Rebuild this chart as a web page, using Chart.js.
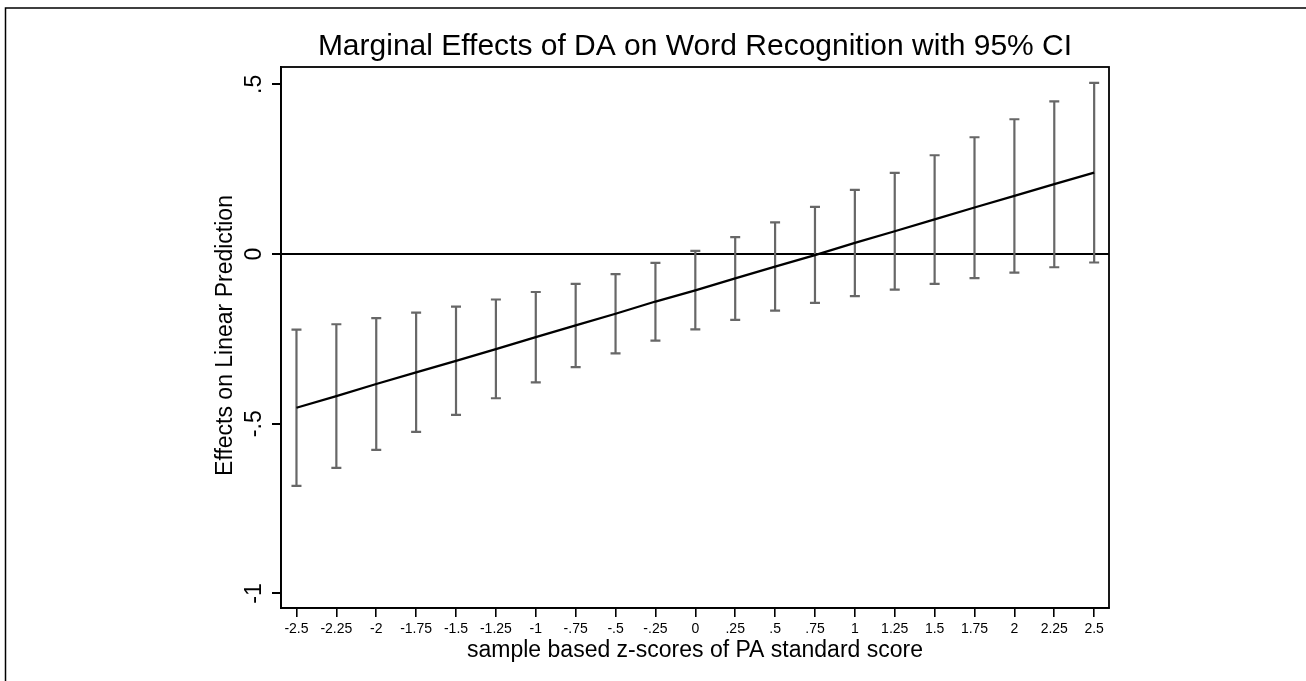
<!DOCTYPE html>
<html>
<head>
<meta charset="utf-8">
<script src="https://cdn.jsdelivr.net/npm/chart.js@4.4.1/dist/chart.umd.min.js"></script>
<style>
  html, body { margin: 0; padding: 0; background: #ffffff; }
  #wrap { position: relative; width: 1306px; height: 681px; }
  canvas { display: block; }
</style>
</head>
<body>
<div id="wrap"><canvas id="c" width="1306" height="681"></canvas></div>
<script>
// ---- data ----
const xValues = [-2.5, -2.25, -2, -1.75, -1.5, -1.25, -1, -0.75, -0.5, -0.25, 0, 0.25, 0.5, 0.75, 1, 1.25, 1.5, 1.75, 2, 2.25, 2.5];
const effect  = [-0.453, -0.419, -0.383, -0.349, -0.315, -0.280, -0.245, -0.210, -0.176, -0.140, -0.107, -0.072, -0.037, -0.003, 0.033, 0.067, 0.102, 0.137, 0.171, 0.206, 0.240];
const upperCI = [-0.223, -0.207, -0.189, -0.173, -0.155, -0.134, -0.112, -0.088, -0.059, -0.026, 0.009, 0.050, 0.093, 0.139, 0.189, 0.239, 0.291, 0.344, 0.397, 0.450, 0.504];
const lowerCI = [-0.683, -0.630, -0.577, -0.524, -0.474, -0.425, -0.378, -0.333, -0.293, -0.255, -0.222, -0.194, -0.167, -0.144, -0.124, -0.105, -0.088, -0.071, -0.055, -0.039, -0.025];

const xTickValues = [-2.5, -2.25, -2, -1.75, -1.5, -1.25, -1, -0.75, -0.5, -0.25, 0, 0.25, 0.5, 0.75, 1, 1.25, 1.5, 1.75, 2, 2.25, 2.5];
const xTickLabels = ['-2.5', '-2.25', '-2', '-1.75', '-1.5', '-1.25', '-1', '-.75', '-.5', '-.25', '0', '.25', '.5', '.75', '1', '1.25', '1.5', '1.75', '2', '2.25', '2.5'];
const yTickValues = [-1, -0.5, 0, 0.5];
const yTickLabels = ['-1', '-.5', '0', '.5'];

const titleText = 'Marginal Effects of DA on Word Recognition with 95% CI';
const xTitleText = 'sample based z-scores of PA standard score';
const yTitleText = 'Effects on Linear Prediction';

const FONT = '"Liberation Sans", Arial, Helvetica, sans-serif';

const points = xValues.map((x, i) => ({ x: x, y: effect[i] }));

const decorPlugin = {
  id: 'decor',
  beforeDatasetsDraw(chart) {
    const ctx = chart.ctx;
    const xs = chart.scales.x, ys = chart.scales.y;
    ctx.save();
    ctx.strokeStyle = '#676767';
    ctx.lineWidth = 2.2;
    ctx.lineCap = 'butt';
    for (let i = 0; i < xValues.length; i++) {
      const px = xs.getPixelForValue(xValues[i]);
      const pLo = ys.getPixelForValue(lowerCI[i]);
      const pHi = ys.getPixelForValue(upperCI[i]);
      ctx.beginPath();
      ctx.moveTo(px, pLo); ctx.lineTo(px, pHi);
      ctx.moveTo(px - 5, pLo); ctx.lineTo(px + 5, pLo);
      ctx.moveTo(px - 5, pHi); ctx.lineTo(px + 5, pHi);
      ctx.stroke();
    }
    ctx.restore();
  },
  afterDraw(chart) {
    const ctx = chart.ctx;
    const a = chart.chartArea;
    const ys = chart.scales.y;
    ctx.save();
    // plot frame
    ctx.strokeStyle = '#000';
    ctx.lineWidth = 1.8;
    ctx.strokeRect(a.left, a.top, a.right - a.left, a.bottom - a.top);
    // outer frame (top and left)
    ctx.lineWidth = 1.5;
    ctx.beginPath();
    ctx.moveTo(5.5, 681); ctx.lineTo(5.5, 8); ctx.lineTo(1306, 8);
    ctx.stroke();
    // title
    ctx.fillStyle = '#000';
    ctx.textAlign = 'center';
    ctx.textBaseline = 'alphabetic';
    ctx.font = '30px ' + FONT;
    ctx.fillText(titleText, (a.left + a.right) / 2, 55);
    // x axis title
    ctx.font = '23px ' + FONT;
    ctx.textBaseline = 'middle';
    ctx.fillText(xTitleText, (a.left + a.right) / 2, 651);
    // y tick labels (rotated)
    for (let i = 0; i < yTickValues.length; i++) {
      const py = ys.getPixelForValue(yTickValues[i]);
      ctx.save();
      ctx.translate(255, py);
      ctx.rotate(-Math.PI / 2);
      ctx.textAlign = 'center';
      ctx.textBaseline = 'middle';
      ctx.font = '23px ' + FONT;
      ctx.fillText(yTickLabels[i], 0, 0);
      ctx.restore();
    }
    // y axis title
    ctx.save();
    ctx.translate(226, (a.top + a.bottom) / 2 - 2);
    ctx.rotate(-Math.PI / 2);
    ctx.textAlign = 'center';
    ctx.textBaseline = 'middle';
    ctx.font = '23px ' + FONT;
    ctx.fillText(yTitleText, 0, 0);
    ctx.restore();
    ctx.restore();
  }
};

new Chart(document.getElementById('c'), {
  type: 'line',
  data: {
    datasets: [{
      data: points,
      borderColor: '#000000',
      borderWidth: 2.3,
      pointRadius: 0,
      pointHoverRadius: 0,
      fill: false,
      tension: 0
    }]
  },
  options: {
    responsive: false,
    animation: false,
    events: [],
    layout: { padding: { left: 0, top: 67, right: 197, bottom: 0 } },
    plugins: { legend: { display: false }, tooltip: { enabled: false }, title: { display: false } },
    scales: {
      x: {
        type: 'linear',
        min: -2.597,
        max: 2.593,
        afterBuildTicks(scale) { scale.ticks = xTickValues.map(v => ({ value: v })); },
        afterFit(scale) { scale.height = 73; },
        ticks: {
          autoSkip: false,
          maxRotation: 0,
          minRotation: 0,
          padding: 4,
          color: '#000',
          font: { family: FONT, size: 14 },
          callback(value) {
            const idx = xTickValues.indexOf(value);
            return idx >= 0 ? xTickLabels[idx] : '';
          }
        },
        grid: { drawOnChartArea: false, drawTicks: true, tickLength: 9, tickColor: '#000', lineWidth: 1.6 },
        border: { display: true, color: '#000', width: 1.8 }
      },
      y: {
        type: 'linear',
        min: -1.043,
        max: 0.551,
        afterBuildTicks(scale) { scale.ticks = yTickValues.map(v => ({ value: v })); },
        afterFit(scale) { scale.width = 281; },
        ticks: { display: false },
        grid: {
          drawOnChartArea: true,
          drawTicks: true,
          tickLength: 9,
          tickColor: '#000',
          lineWidth: 2,
          color(ctx) { return (ctx.tick && ctx.tick.value === 0) ? '#000' : 'rgba(0,0,0,0)'; }
        },
        border: { display: true, color: '#000', width: 1.8 }
      }
    }
  },
  plugins: [decorPlugin]
});
</script>
</body>
</html>
